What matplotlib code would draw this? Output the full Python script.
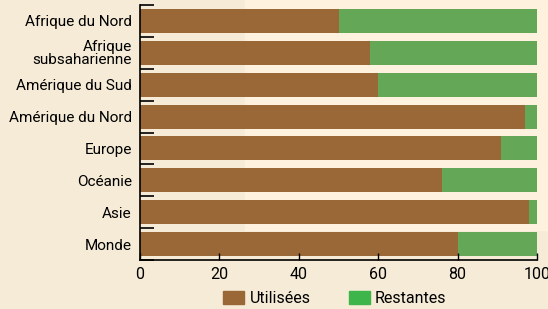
import matplotlib.pyplot as plt
from matplotlib.patches import Rectangle, Patch

regions = ['Afrique du Nord', 'Afrique\nsubsaharienne', 'Amérique du Sud', 'Amérique du Nord',
           'Europe', 'Océanie', 'Asie', 'Monde']
utilisees = [50, 58, 60, 97, 91, 76, 98, 80]
restantes = [100 - v for v in utilisees]
xticks = [0, 20, 40, 60, 80, 100]

brown = '#996836'
green = '#63a757'
green_leg = '#3db54a'

plt.rcParams['font.family'] = ['Roboto', 'DejaVu Sans']

fig = plt.figure(figsize=(5.48, 3.09), dpi=100, facecolor='#f5ebd6')
# lighter band behind the plot (as in the reference)
fig.patches.append(Rectangle((245 / 548, 1 - 230 / 309), 303 / 548, 230 / 309,
                             transform=fig.transFigure, color='#fef1de', zorder=-5))

ax = fig.add_axes([140 / 548, 1 - 260 / 309, 397 / 548, 255 / 309])
ax.set_facecolor('none')
ax.set_zorder(2)

y = list(range(len(regions)))
ax.barh(y, utilisees, height=0.75, color=brown)
ax.barh(y, restantes, left=utilisees, height=0.75, color=green)

ax.set_xlim(0, 100)
ax.set_ylim(len(regions) - 0.5, -0.5)
ax.set_xticks(xticks)
ax.set_xticklabels([str(t) for t in xticks], fontsize=11.5)
ax.set_yticks(y)
ax.set_yticklabels(regions, fontsize=11, linespacing=0.85)
ax.tick_params(axis='y', length=0, pad=6)
ax.set_yticks([i - 0.5 for i in range(len(regions) + 1)], minor=True)
ax.tick_params(axis='y', which='minor', direction='in', length=10, width=1.2)
ax.tick_params(axis='x', direction='in', length=5, width=1, pad=5)

for s in ['top', 'right']:
    ax.spines[s].set_visible(False)
ax.spines['left'].set_linewidth(1.2)
ax.spines['bottom'].set_linewidth(1.2)

handles = [Patch(color=brown, label='Utilisées'), Patch(color=green_leg, label='Restantes')]
fig.legend(handles=handles, loc='lower center', bbox_to_anchor=(0.611, -0.036), ncol=2,
           frameon=False, fontsize=11.5, handlelength=1.3, handleheight=0.9,
           columnspacing=2.4, handletextpad=0.35)

fig.savefig('out.png', dpi=100, facecolor=fig.get_facecolor())
